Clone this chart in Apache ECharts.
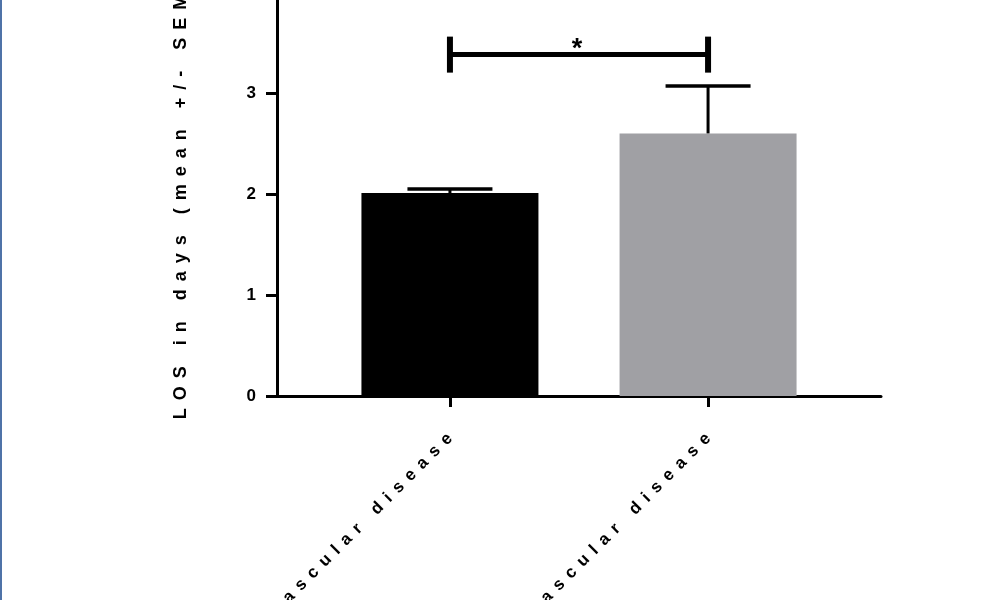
<!DOCTYPE html>
<html>
<head>
<meta charset="utf-8">
<script src="https://cdn.jsdelivr.net/npm/echarts@6/dist/echarts.min.js"></script>
<style>html,body{margin:0;padding:0;background:#fff}#c{width:1000px;height:600px}</style>
</head>
<body>
<div id="c"></div>
<script>
// ---- data ----
var categories = ['Without vascular disease', 'With vascular disease'];
var means = [2.01, 2.60];
var sems = [0.04, 0.47];
var yTicks = [0, 1, 2, 3, 4];
var barColors = ['#000000', '#a0a0a4'];
var sigPair = [0, 1];
var sigLevel = 3.38;
var sigLabel = '*';
var yTitle = 'LOS in days (mean +/- SEM)';

function spaced(s, sep) { return s.split('').join(sep); }
var FONT = 'Arial, "Liberation Sans", sans-serif';

var chart = echarts.init(document.getElementById('c'), null, {renderer: 'canvas'});
var option = {
  backgroundColor: '#ffffff',
  animation: false,
  grid: {left: 277, right: 119, top: -8, bottom: 204, containLabel: false, outerBoundsMode: 'none'},
  xAxis: {
    type: 'value', min: -0.67, max: 1.67,
    splitLine: {show: false},
    axisLine: {show: true, onZero: false, lineStyle: {color: '#000', width: 3}},
    axisTick: {show: true, customValues: [0, 1], length: 11, lineStyle: {color: '#000', width: 3}},
    axisLabel: {
      show: true, customValues: [0, 1], rotate: 45, margin: 40,
      color: '#000', fontFamily: FONT, fontWeight: 'bold', fontSize: 17,
      formatter: function (v) { var i = Math.round(v); return categories[i] ? spaced(categories[i], ' \u2006') : ''; }
    }
  },
  yAxis: {
    type: 'value', min: 0, max: 4, interval: 1,
    splitLine: {show: false},
    axisLine: {show: true, onZero: false, lineStyle: {color: '#000', width: 3}},
    axisTick: {show: true, length: 11, lineStyle: {color: '#000', width: 3}},
    axisLabel: {
      margin: 21, color: '#000', fontFamily: FONT, fontWeight: 'bold', fontSize: 17,
      formatter: function (v) { return yTicks.indexOf(v) >= 0 ? String(v) : ''; }
    },
    name: spaced(yTitle, ' \u2006'), nameLocation: 'middle', nameGap: 87,
    nameTextStyle: {color: '#000', fontFamily: FONT, fontWeight: 'bold', fontSize: 18, padding: [0, 12, 0, 0]}
  },
  series: [
    {
      type: 'bar', barWidth: 177,
      data: means.map(function (m, i) { return {value: [i, m], itemStyle: {color: barColors[i]}}; }),
      z: 2
    },
    {
      type: 'custom', z: 3,
      data: means.map(function (m, i) { return [i, m, sems[i]]; }),
      renderItem: function (params, api) {
        var x = api.value(0), m = api.value(1), s = api.value(2);
        var p0 = api.coord([x, m]);
        var p1 = api.coord([x, m + s]);
        var hw = 42.5;
        return {
          type: 'group',
          children: [
            {type: 'line', shape: {x1: p0[0], y1: p0[1], x2: p1[0], y2: p1[1]}, style: {stroke: '#000', lineWidth: 3}},
            {type: 'line', shape: {x1: p1[0] - hw, y1: p1[1], x2: p1[0] + hw, y2: p1[1]}, style: {stroke: '#000', lineWidth: 3.5}}
          ]
        };
      }
    },
    {
      type: 'custom', z: 4,
      data: [[sigPair[0], sigPair[1], sigLevel]],
      renderItem: function (params, api) {
        var a = api.coord([api.value(0), api.value(2)]);
        var b = api.coord([api.value(1), api.value(2)]);
        var h = 18;
        return {
          type: 'group',
          children: [
            {type: 'line', shape: {x1: a[0], y1: a[1], x2: b[0], y2: b[1]}, style: {stroke: '#000', lineWidth: 5}},
            {type: 'line', shape: {x1: a[0], y1: a[1] - h, x2: a[0], y2: a[1] + h}, style: {stroke: '#000', lineWidth: 6}},
            {type: 'line', shape: {x1: b[0], y1: b[1] - h, x2: b[0], y2: b[1] + h}, style: {stroke: '#000', lineWidth: 6}},
            {type: 'text', style: {x: (a[0] + b[0]) / 2 - 2, y: a[1] - 19, text: sigLabel, fill: '#000',
              font: 'bold 27px ' + FONT, textAlign: 'center', textVerticalAlign: 'top'}}
          ]
        };
      }
    }
  ],
  graphic: [
    {type: 'rect', left: 0, top: 0, shape: {x: 0, y: 0, width: 2, height: 600}, style: {fill: '#4f73a8'}, silent: true}
  ]
};
chart.setOption(option);
</script>
</body>
</html>
